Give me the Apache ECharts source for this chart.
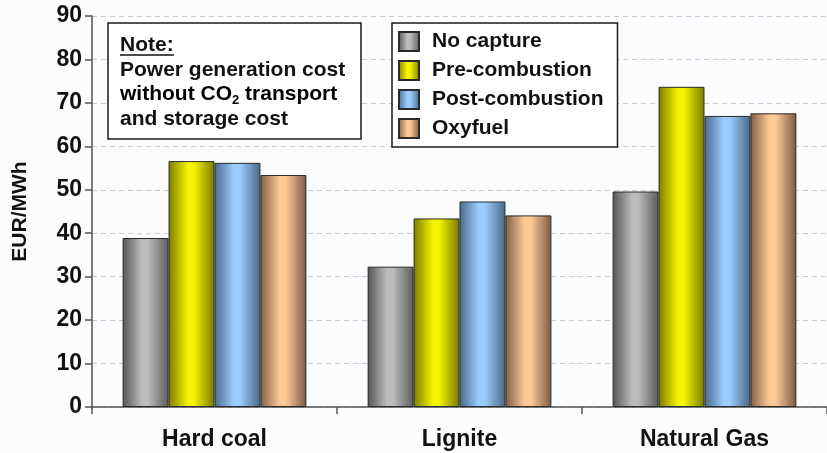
<!DOCTYPE html>
<html>
<head>
<meta charset="utf-8">
<title>Power generation cost</title>
<script src="https://cdn.jsdelivr.net/npm/echarts@6/dist/echarts.min.js"></script>
<style>
  html, body { margin: 0; padding: 0; background: #fbfcfd; }
  #chart { width: 827px; height: 453px; }
</style>
</head>
<body>
<div id="chart"></div>
<script>
// Fuel types on the category axis
var categories = ['Hard coal', 'Lignite', 'Natural Gas'];

// Power generation cost in EUR/MWh per capture technology
var noCapture      = [38.9, 32.3, 49.6];
var preCombustion  = [56.6, 43.4, 73.7];
var postCombustion = [56.2, 47.3, 67.0];
var oxyfuel        = [53.4, 44.1, 67.6];

var seriesNames = ['No capture', 'Pre-combustion', 'Post-combustion', 'Oxyfuel'];

// Value axis ticks
var yMin = 0, yMax = 90, yStep = 10;

var FONT = '"Liberation Sans", Arial, sans-serif';

// Horizontal shading that gives each bar a rounded, cylinder-like look
function shade(dark, light, dark2) {
  return new echarts.graphic.LinearGradient(0, 0, 1, 0, [
    { offset: 0, color: dark },
    { offset: 0.42, color: light },
    { offset: 0.55, color: light },
    { offset: 1, color: dark2 }
  ]);
}

var palette = [
  shade('#555555', '#bcbcbc', '#5c5c5c'),
  shade('#7c7c00', '#f4f400', '#7a7a00'),
  shade('#4a6a8a', '#9acdff', '#4a6886'),
  shade('#7e6048', '#ffc996', '#7a5a44')
];

function barSeries(name, data, color) {
  return {
    name: name,
    type: 'bar',
    data: data,
    barGap: '0%',
    barCategoryGap: '25%',
    itemStyle: { color: color, borderColor: '#2a2a2a', borderWidth: 1 }
  };
}

var chart = echarts.init(document.getElementById('chart'), null, { renderer: 'canvas' });

chart.setOption({
  backgroundColor: '#fbfcfd',
  animation: false,
  textStyle: { fontFamily: FONT },
  grid: { left: 92, right: 0, top: 16, bottom: 46, containLabel: false },
  legend: {
    data: seriesNames,
    orient: 'vertical',
    left: 392,
    top: 23,
    icon: 'rect',
    itemWidth: 20,
    itemHeight: 19,
    itemGap: 8,
    padding: [8, 14, 8, 6],
    backgroundColor: '#ffffff',
    borderColor: '#1a1a1a',
    borderWidth: 1.5,
    textStyle: {
      fontFamily: FONT,
      fontSize: 21,
      fontWeight: 'bold',
      color: '#111111',
      lineHeight: 19,
      padding: [0, 0, 0, 8]
    }
  },
  xAxis: {
    type: 'category',
    data: categories,
    axisLine: { lineStyle: { color: '#555555', width: 1.5 } },
    axisTick: { show: true, length: 7, lineStyle: { color: '#555555', width: 1.5 } },
    axisLabel: {
      margin: 21,
      fontFamily: FONT,
      fontSize: 23,
      fontWeight: 'bold',
      color: '#111111'
    },
    splitLine: { show: false }
  },
  yAxis: {
    type: 'value',
    min: yMin,
    max: yMax,
    interval: yStep,
    name: 'EUR/MWh',
    nameLocation: 'middle',
    nameGap: 61,
    nameTextStyle: {
      fontFamily: FONT,
      fontSize: 21,
      fontWeight: 'bold',
      color: '#111111'
    },
    axisLine: { show: true, lineStyle: { color: '#555555', width: 1.5 } },
    axisTick: { show: true, length: 7, lineStyle: { color: '#555555', width: 1.5 } },
    axisLabel: {
      margin: 10,
      fontFamily: FONT,
      fontSize: 23,
      fontWeight: 'bold',
      color: '#111111'
    },
    splitLine: { show: true, lineStyle: { color: '#c9ccd0', type: [5, 4], width: 1 } }
  },
  series: [
    barSeries(seriesNames[0], noCapture, palette[0]),
    barSeries(seriesNames[1], preCombustion, palette[1]),
    barSeries(seriesNames[2], postCombustion, palette[2]),
    barSeries(seriesNames[3], oxyfuel, palette[3])
  ],
  graphic: [
    {
      type: 'rect',
      shape: { x: 108, y: 23, width: 253, height: 116 },
      style: { fill: '#ffffff', stroke: '#1a1a1a', lineWidth: 1.5 },
      z: 10
    },
    {
      type: 'text',
      x: 120, y: 45.5,
      style: { text: 'Note:', font: 'bold 21px ' + FONT, fill: '#111111', verticalAlign: 'middle' },
      z: 11
    },
    {
      type: 'line',
      shape: { x1: 120, y1: 55, x2: 174, y2: 55 },
      style: { stroke: '#111111', lineWidth: 1.5 },
      z: 11
    },
    {
      type: 'text',
      x: 120, y: 70,
      style: { text: 'Power generation cost', font: 'bold 21px ' + FONT, fill: '#111111', verticalAlign: 'middle' },
      z: 11
    },
    {
      type: 'text',
      x: 120, y: 94.5,
      style: {
        text: '{m|without CO}{s|2}{m| transport}',
        verticalAlign: 'middle',
        rich: {
          m: { fontFamily: FONT, fontSize: 21, fontWeight: 'bold', color: '#111111', lineHeight: 24, verticalAlign: 'middle' },
          s: { fontFamily: FONT, fontSize: 13, fontWeight: 'bold', color: '#111111', lineHeight: 12, verticalAlign: 'bottom' }
        }
      },
      z: 11
    },
    {
      type: 'text',
      x: 120, y: 119,
      style: { text: 'and storage cost', font: 'bold 21px ' + FONT, fill: '#111111', verticalAlign: 'middle' },
      z: 11
    }
  ]
});
</script>
</body>
</html>
